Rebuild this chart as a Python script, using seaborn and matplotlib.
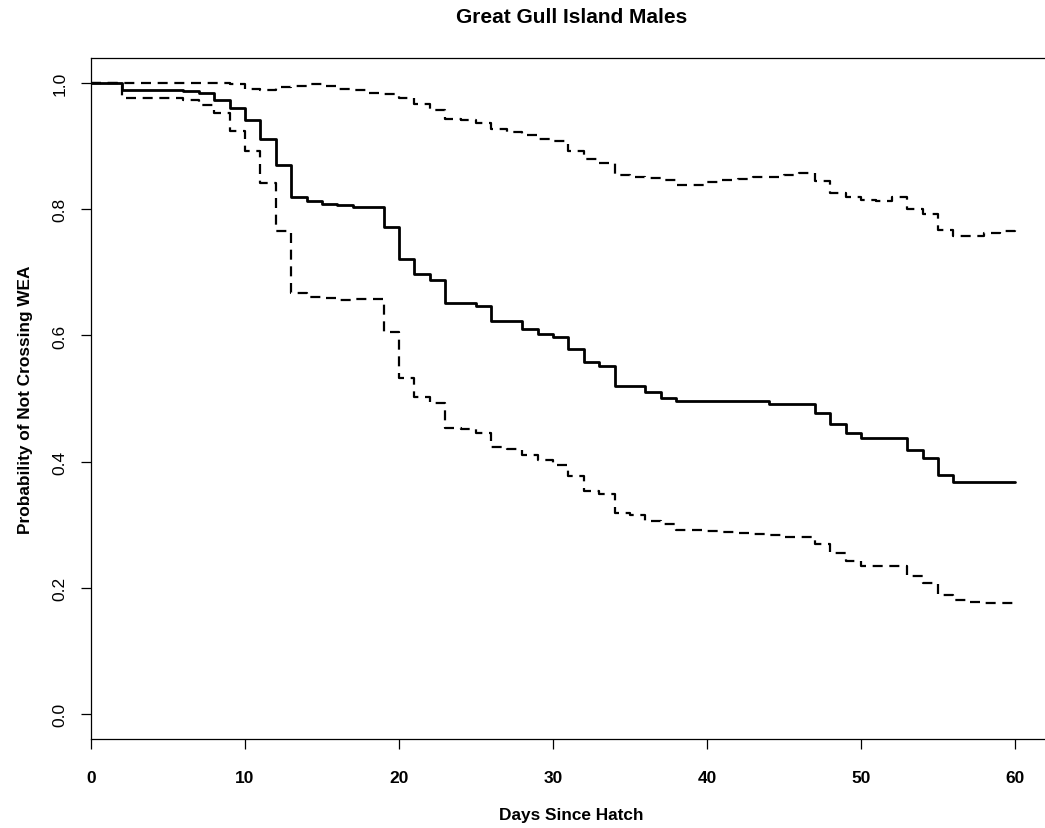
import numpy as np
import pandas as pd
import matplotlib
matplotlib.use("Agg")
import matplotlib.pyplot as plt
import seaborn as sns

# ========== data ==========
days = list(range(0, 61))

surv = [1.000, 1.000, 0.990, 0.990, 0.990, 0.990, 0.988, 0.984, 0.974, 0.960,
        0.941, 0.911, 0.871, 0.819, 0.813, 0.809, 0.807, 0.804, 0.804, 0.772,
        0.721, 0.697, 0.688, 0.652, 0.652, 0.647, 0.623, 0.623, 0.610, 0.603,
        0.598, 0.578, 0.558, 0.552, 0.520, 0.520, 0.510, 0.501, 0.496, 0.496,
        0.496, 0.496, 0.496, 0.496, 0.491, 0.491, 0.491, 0.477, 0.459, 0.446,
        0.437, 0.437, 0.437, 0.418, 0.405, 0.379, 0.367, 0.367, 0.367, 0.367,
        0.367]

lower = [1.000, 1.000, 0.976, 0.976, 0.976, 0.976, 0.974, 0.966, 0.952, 0.924,
         0.893, 0.842, 0.766, 0.667, 0.661, 0.659, 0.656, 0.658, 0.658, 0.605,
         0.533, 0.502, 0.493, 0.454, 0.452, 0.446, 0.423, 0.420, 0.411, 0.403,
         0.395, 0.377, 0.353, 0.349, 0.318, 0.316, 0.305, 0.301, 0.292, 0.291,
         0.290, 0.288, 0.287, 0.285, 0.283, 0.281, 0.280, 0.269, 0.255, 0.242,
         0.234, 0.235, 0.234, 0.218, 0.207, 0.189, 0.181, 0.178, 0.176, 0.175,
         0.175]

upper = [1.000, 1.000, 1.000, 1.000, 1.000, 1.000, 1.000, 1.000, 1.000, 0.998,
         0.991, 0.990, 0.994, 0.995, 0.999, 0.996, 0.991, 0.989, 0.985, 0.983,
         0.976, 0.967, 0.958, 0.944, 0.941, 0.937, 0.928, 0.923, 0.918, 0.911,
         0.908, 0.893, 0.880, 0.873, 0.854, 0.851, 0.850, 0.846, 0.839, 0.839,
         0.843, 0.846, 0.848, 0.851, 0.851, 0.854, 0.857, 0.845, 0.826, 0.819,
         0.815, 0.814, 0.820, 0.801, 0.793, 0.768, 0.757, 0.757, 0.762, 0.766,
         0.770]

x_ticks = [0, 10, 20, 30, 40, 50, 60]
y_ticks = [0.0, 0.2, 0.4, 0.6, 0.8, 1.0]

df = pd.DataFrame({"day": days, "surv": surv, "lower": lower, "upper": upper})

# ========== style ==========
sns.set_style("white")
plt.rcParams["font.family"] = ["Liberation Sans", "DejaVu Sans"]
plt.rcParams["text.color"] = "black"
plt.rcParams["axes.labelcolor"] = "black"
plt.rcParams["xtick.color"] = "black"
plt.rcParams["ytick.color"] = "black"

fig = plt.figure(figsize=(10.45, 8.29), dpi=100)
# box runs off the right edge of the picture, like the original
ax = fig.add_axes([91 / 1045, 1 - 740 / 829, 961 / 1045, 681 / 829])

sns.lineplot(data=df, x="day", y="surv", color="black", linewidth=2.0,
             drawstyle="steps-post", ax=ax)
for col in ["lower", "upper"]:
    sns.lineplot(data=df, x="day", y=col, color="black", linewidth=1.6,
                 drawstyle="steps-post", linestyle=(0, (4.5, 3)), ax=ax)

ax.set_xlim(0, 62.4)
ax.set_ylim(-0.04, 1.04)

ax.set_xticks(x_ticks)
ax.set_xticklabels([str(t) for t in x_ticks], fontsize=12.5, fontweight="bold")
ax.set_yticks(y_ticks)
ax.set_yticklabels([f"{t:.1f}" for t in y_ticks], fontsize=12.5, rotation=90,
                   va="center")
ax.tick_params(axis="both", direction="out", length=7, width=0.9,
               color="black", bottom=True, left=True)
ax.tick_params(axis="x", pad=15)
ax.tick_params(axis="y", pad=10)

for s in ax.spines.values():
    s.set_color("black")
    s.set_linewidth(0.9)

ax.set_xlabel("Days Since Hatch", fontsize=12.4, fontweight="bold", labelpad=16)
ax.set_ylabel("Probability of Not Crossing WEA", fontsize=12.4,
              fontweight="bold", labelpad=14)
ax.set_title("Great Gull Island Males", fontsize=15, fontweight="bold", pad=26)

plt.savefig("out.png", dpi=100)
